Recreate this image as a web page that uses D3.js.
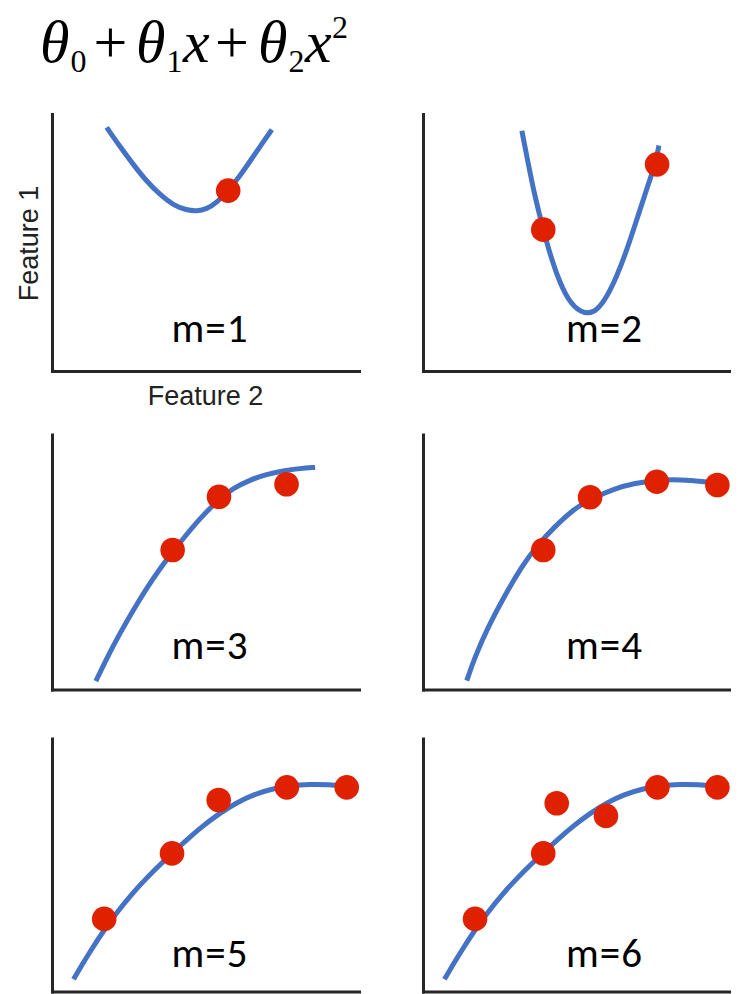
<!DOCTYPE html>
<html>
<head>
<meta charset="utf-8">
<title>Quadratic fit for m = 1..6 examples</title>
<style>
body{ margin:0; background:#fff; }
svg{ display:block; }
.axis path.domain{ stroke:#262626; stroke-width:3; stroke-linecap:square; }
.fit{ stroke:#4472c4; stroke-width:5; fill:none; }
.pt{ fill:#df2100; }
.mlab{ font-family: Carlito, Calibri, Lato, sans-serif; font-size:41px; letter-spacing:1px; fill:#000; text-anchor:middle; }
.flab{ font-family: "Liberation Sans", Arial, Helvetica, sans-serif; font-size:27px; fill:#222; text-anchor:middle; }
.title{ font-family: "Liberation Serif", "Times New Roman", serif; fill:#000; }
</style>
</head>
<body>
<svg id="chart"></svg>
<script src="https://d3js.org/d3.v7.min.js"></script>
<script>
// fitted curves (x, y in 0..100 axis units)
var curveM1 = [[17.8,94.8],[22.1,87.4],[26.5,80.3],[30.8,73.8],[35.2,68.6],[39.5,64.5],[43.9,62.6],[47.1,62.2],[50.4,63.0],[53.6,65.4],[57.4,70.2],[61.2,75.9],[64.5,81.6],[67.8,87.4],[71.6,93.9]];
var curveM2 = [[32.3,93.5],[34.4,80.6],[36.6,67.7],[39.3,55.0],[42.1,43.1],[44.8,34.1],[48.0,26.6],[51.3,23.1],[54.0,22.3],[56.8,23.6],[60.0,28.6],[63.3,36.7],[66.6,47.0],[69.8,58.6],[73.1,70.9],[75.8,80.0],[77.1,87.7]];
var curveM3 = [[14.3,3.3],[17.8,12.2],[22.1,22.0],[26.5,31.2],[30.8,39.7],[35.2,47.5],[39.3,54.0],[43.9,60.9],[48.2,67.1],[54.4,74.6],[59.0,78.9],[64.5,82.2],[69.9,84.4],[75.3,85.8],[80.8,86.7],[85.7,87.1]];
var curveM4 = [[14.3,3.5],[17.0,12.9],[21.3,24.6],[26.8,37.1],[32.3,48.2],[36.6,55.5],[43.1,64.0],[49.7,71.1],[54.6,74.6],[62.7,78.9],[69.3,80.9],[76.4,82.2],[84.5,82.3],[91.1,81.6],[97.4,80.6]];
var curveM5 = [[7.0,4.8],[10,11.0],[13,16.9],[16.8,24.0],[21,31.1],[26,38.6],[31,45.1],[35,49.9],[39.1,54.6],[44,60.1],[49,65.3],[54.3,70.2],[60,74.6],[66,78.0],[72,80.2],[78,81.5],[84,81.9],[90,81.8],[95.8,81.2]];
var curveM6 = [[7.0,4.8],[10,11.0],[13,16.9],[16.8,24.0],[21,31.1],[26,38.6],[31,45.1],[35,49.9],[39.1,54.6],[44,60.1],[49,65.3],[54.3,70.2],[60,74.6],[66,78.0],[72,80.2],[78,81.5],[84,81.9],[90,81.8],[95.8,81.2]];

// training examples shown in each panel
var dotsM1 = [[57.4,70.2]];
var dotsM2 = [[39.3,55.0],[76.5,80.4]];
var dotsM3 = [[39.3,54.7],[54.4,75.6],[76.4,80.5]];
var dotsM4 = [[39.3,54.7],[54.6,75.4],[76.4,81.5],[96.2,80.2]];
var dotsM5 = [[17.0,28.7],[39.1,54.6],[54.3,75.7],[76.5,80.7],[96.0,80.7]];
var dotsM6 = [[17.0,28.7],[39.3,54.6],[43.7,74.4],[59.8,69.4],[76.6,80.7],[96.2,80.7]];

var panelLabels = ["m=1","m=2","m=3","m=4","m=5","m=6"];
var curves = [curveM1, curveM2, curveM3, curveM4, curveM5, curveM6];
var dots = [dotsM1, dotsM2, dotsM3, dotsM4, dotsM5, dotsM6];

var width = 745, height = 994;
var colX = [52, 423];              // y-axis position per column
var colW = [307, 306];
var rowBase = [371, 689.5, 991.5]; // x-axis position per row
var rowH = [257, 255, 253];
var labX = [157.5, 181];
var labUp = [29.3, 30.7, 24.8];
var dotR = 12.3;

var svg = d3.select("#chart")
    .attr("width", width)
    .attr("height", height);

// title: theta_0 + theta_1 x + theta_2 x^2
var title = svg.append("text").attr("class", "title");
var tokens = [
    {t:"\u03b8", x:40,    y:62, s:60, it:true},
    {t:"0",      x:70.5,  y:72, s:32},
    {t:"+",      x:93.5,  y:62, s:60},
    {t:"\u03b8", x:136,   y:62, s:60, it:true},
    {t:"1",      x:166.5, y:72, s:32},
    {t:"x",      x:183,   y:62, s:60, it:true},
    {t:"+",      x:215,   y:62, s:60},
    {t:"\u03b8", x:258,   y:62, s:60, it:true},
    {t:"2",      x:288.5, y:72, s:32},
    {t:"x",      x:305,   y:62, s:60, it:true},
    {t:"2",      x:332,   y:38, s:32}
];
tokens.forEach(function(d){
    title.append("tspan")
        .attr("x", d.x)
        .attr("y", d.y)
        .style("font-size", d.s + "px")
        .style("font-style", d.it ? "italic" : "normal")
        .text(d.t);
});

panelLabels.forEach(function(lab, i){
    var col = i % 2, row = Math.floor(i / 2);
    var w = colW[col], h = rowH[row];

    var x = d3.scaleLinear().domain([0, 100]).range([0, w]);
    var y = d3.scaleLinear().domain([0, 100]).range([0, -h]);

    var g = svg.append("g")
        .attr("transform", "translate(" + colX[col] + "," + rowBase[row] + ")");

    g.append("g")
        .attr("class", "axis")
        .call(d3.axisBottom(x).ticks(0).tickSizeOuter(0));
    g.append("g")
        .attr("class", "axis")
        .call(d3.axisLeft(y).ticks(0).tickSizeOuter(0));

    var line = d3.line()
        .x(function(d){ return x(d[0]); })
        .y(function(d){ return y(d[1]); })
        .curve(d3.curveBasis);

    g.append("path")
        .attr("class", "fit")
        .attr("d", line(curves[i]));

    g.selectAll("circle")
        .data(dots[i])
        .enter()
        .append("circle")
        .attr("class", "pt")
        .attr("cx", function(d){ return x(d[0]); })
        .attr("cy", function(d){ return y(d[1]); })
        .attr("r", dotR);

    g.append("text")
        .attr("class", "mlab")
        .attr("x", labX[col] + 0.5)
        .attr("y", -labUp[row])
        .text(lab);

    if (i == 0) {
        g.append("text")
            .attr("class", "flab")
            .attr("transform", "translate(-14," + (-h / 2 + 1) + ") rotate(-90)")
            .text("Feature 1");
        g.append("text")
            .attr("class", "flab")
            .attr("x", w / 2)
            .attr("y", 34)
            .text("Feature 2");
    }
});
</script>
</body>
</html>
